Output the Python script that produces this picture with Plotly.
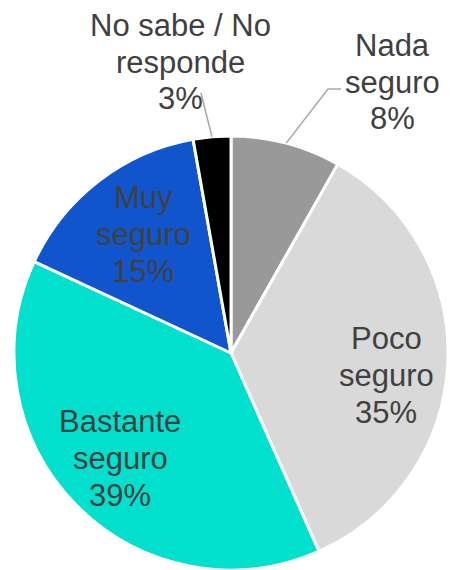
import math
import plotly.graph_objects as go

labels = ["Nada seguro", "Poco seguro", "Bastante seguro", "Muy seguro", "No sabe / No responde"]
label_lines = [["Nada", "seguro"], ["Poco", "seguro"], ["Bastante", "seguro"],
               ["Muy", "seguro"], ["No sabe / No", "responde"]]
values = [8.2, 35.2, 38.6, 15.3, 2.8]
colors = ["#999999", "#D9D9D9", "#00E0CC", "#1155CC", "#000000"]

W, H = 450, 570
CX, CY, R = 231, 353, 217  # pie centre / radius in pixels (layout)
# label block placement (x centre, y of middle line) in pixels, and line pitch
label_pos = [(392, 82), (386, 375), (120, 458), (143, 235), (180, 62)]
PITCH = 37

fig = go.Figure(go.Pie(
    labels=labels, values=values, sort=False, direction="clockwise", rotation=0,
    marker=dict(colors=colors, line=dict(color="white", width=3)),
    textinfo="none", hoverinfo="label+percent",
    domain=dict(x=[(CX - R) / W, (CX + R) / W], y=[(H - CY - R) / H, (H - CY + R) / H]),
    showlegend=False,
))

def px(x, y):
    return x / W, 1 - y / H

total = sum(values)
cum = 0
mids = []
for v in values:
    mids.append((cum + v / 2) / total * 2 * math.pi)
    cum += v

font = dict(family="Liberation Sans, Arial, sans-serif", size=31, color="#404040")
annotations = []
shapes = []
leaders = {0: [(328, 89), (341, 89)], 4: [(201, 93)]}
for i, v in enumerate(values):
    lines = label_lines[i] + [f"{round(v / total * 100)}%"]
    x, ymid = label_pos[i]
    for k, line in enumerate(lines):
        y = ymid + (k - 1) * PITCH
        xx, yy = px(x, y)
        annotations.append(dict(text=line, x=xx, y=yy, xref="paper", yref="paper",
                                showarrow=False, font=font,
                                xanchor="center", yanchor="middle"))
    if i in leaders:
        a = mids[i]
        pts = [(CX + R * math.sin(a), CY - R * math.cos(a))] + leaders[i]
        path = "M " + " L ".join(f"{px(*p)[0]},{px(*p)[1]}" for p in pts)
        shapes.append(dict(type="path", path=path, xref="paper", yref="paper",
                           line=dict(color="#A6A6A6", width=1.5)))

fig.update_layout(
    width=W, height=H, margin=dict(l=0, r=0, t=0, b=0),
    paper_bgcolor="white", plot_bgcolor="white",
    annotations=annotations, shapes=shapes,
)
fig.write_html("out.html", config={"displayModeBar": False},
               post_script="document.body.style.margin='0';")
